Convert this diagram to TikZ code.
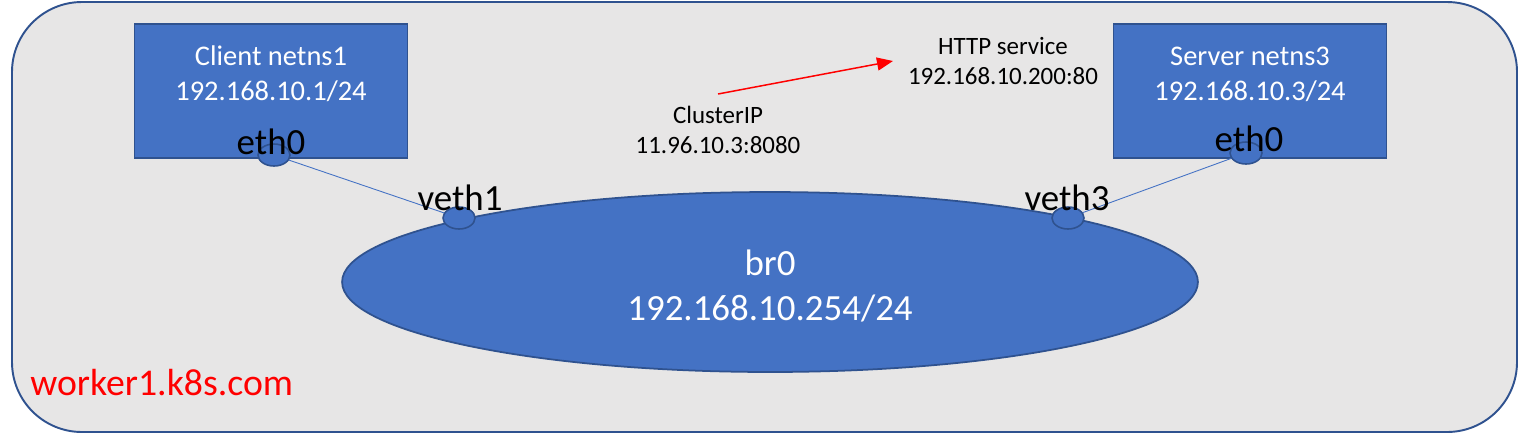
\documentclass[tikz,border=0pt]{standalone}
\usepackage{fontspec}
\setmainfont{Carlito}
\usetikzlibrary{shapes.geometric,arrows.meta}
\definecolor{boxblue}{RGB}{68,114,196}
\definecolor{edgeblue}{RGB}{47,82,143}
\definecolor{bggray}{RGB}{231,230,230}
\definecolor{pureRed}{RGB}{255,0,0}

\begin{document}
\begin{tikzpicture}[x=0.02cm,y=-0.02cm,
    caixa/.style={draw=edgeblue,fill=boxblue,line width=1pt,minimum width=5.46cm,minimum height=2.68cm,inner sep=0pt},
    porta/.style={ellipse,draw=edgeblue,fill=boxblue,line width=0.9pt,minimum width=0.64cm,minimum height=0.44cm,inner sep=0pt},
    rotulo/.style={text=black,font=\fontsize{21}{24}\selectfont,inner sep=0pt},
    textobox/.style={text=white,align=center,inner sep=0pt,font=\fontsize{16.2}{19.9}\selectfont},
    textoip/.style={text=black,align=center,inner sep=0pt,font=\fontsize{14.2}{17}\selectfont},
    fio/.style={boxblue,line width=0.5pt}]
    \useasboundingbox (0,0) rectangle (1521,434);

    % Fundo do worker
    \draw[edgeblue,fill=bggray,line width=1.1pt,rounded corners=1.4cm] (12,2) rectangle (1517,432);

    % Namespaces (cliente e servidor)
    \node[caixa] (client) at (271,91) {};
    \node[caixa] (server) at (1250,91) {};
    \node[textobox] (clienttxt) at (271,74) {Client netns1\\192.168.10.1/24};
    \node[textobox] (servertxt) at (1250,74) {Server netns3\\192.168.10.3/24};

    % Bridge br0
    \node[ellipse,draw=edgeblue,fill=boxblue,line width=1pt,minimum width=17.12cm,minimum height=3.6cm] (br0) at (770,282) {};
    \node[text=white,align=center,inner sep=0pt,font=\fontsize{21}{25.6}\selectfont] (br0txt) at (770,286) {br0\\192.168.10.254/24};

    % Portas
    \node[porta] (eth0a) at (274,155) {};
    \node[porta] (eth0b) at (1246,153) {};
    \node[porta] (veth1) at (459,218) {};
    \node[porta] (veth3) at (1068,218) {};

    % Ligacoes veth
    \draw[fio] (eth0a) -- (veth1);
    \draw[fio] (eth0b) -- (veth3);

    % Rotulos das portas
    \node[rotulo] (eth0alabel) at (271,142) {eth0};
    \node[rotulo] (eth0blabel) at (1249,139) {eth0};
    \node[rotulo] (veth1label) at (460,198) {veth1};
    \node[rotulo] (veth3label) at (1067,198) {veth3};

    % ClusterIP -> servico HTTP
    \node[textoip] (http) at (1003,61) {HTTP service\\192.168.10.200:80};
    \node[textoip] (clusterip) at (718,130) {ClusterIP\\11.96.10.3:8080};
    \coordinate (cipstart) at (718,94);
    \coordinate (cipend) at (893,61);
    \draw[pureRed,line width=0.85pt,-{Triangle[length=0.32cm,width=0.26cm]}] (cipstart) -- (cipend);

    % Nome do host
    \node[text=pureRed,anchor=west,inner sep=0pt,font=\fontsize{21.5}{24}\selectfont] (host) at (30,383) {worker1.k8s.com};
\end{tikzpicture}
\end{document}
